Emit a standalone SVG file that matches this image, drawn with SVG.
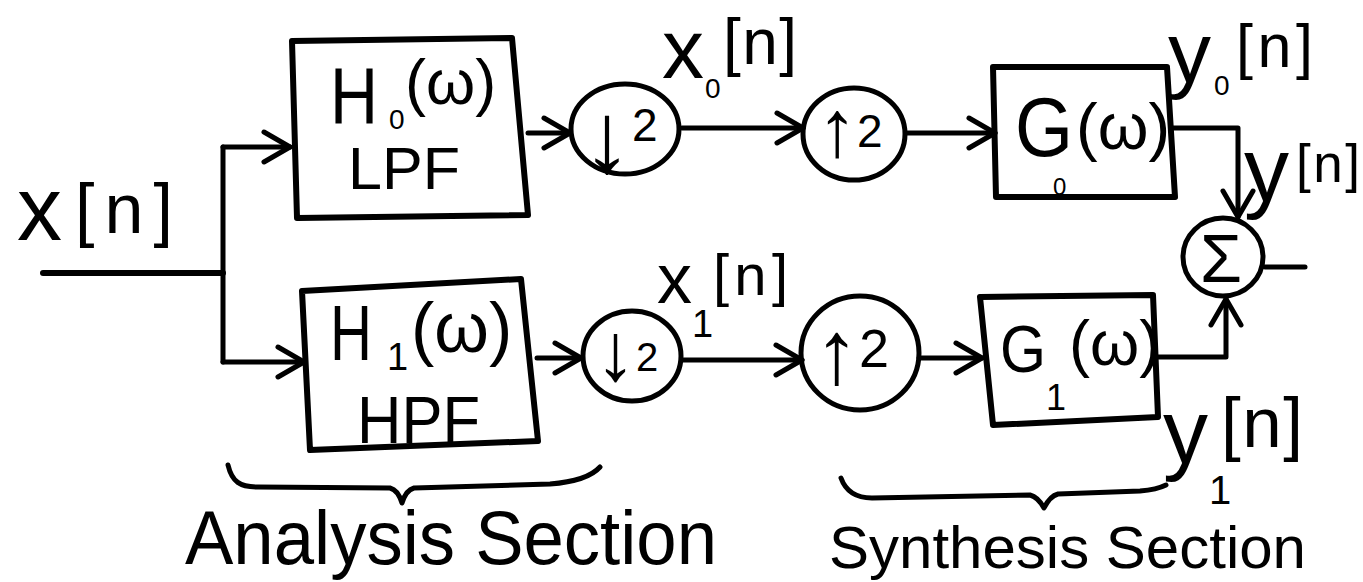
<svg xmlns="http://www.w3.org/2000/svg" width="1363" height="582" viewBox="0 0 1363 582">
<defs>
<style>
.ln{fill:none;stroke:#000;stroke-width:5;stroke-linecap:round;stroke-linejoin:round}
.box{fill:none;stroke:#000;stroke-width:6;stroke-linejoin:round}
.t{font-family:"Liberation Sans","DejaVu Sans",sans-serif;fill:#000}
</style>
<marker id="ah" markerUnits="userSpaceOnUse" markerWidth="40" markerHeight="40" refX="30" refY="20" orient="auto" viewBox="0 0 40 40">
<path d="M4,5 L30,20 L4,35" fill="none" stroke="#000" stroke-width="5" stroke-linecap="round" stroke-linejoin="round"/>
</marker>
</defs>
<rect width="1363" height="582" fill="#fff"/>

<g id="connectors">
<path class="ln" d="M43,273 L223,273" style="stroke-width:6"/>
<path class="ln" d="M223,147 L223,362"/>
<path class="ln" d="M223,147 L290,147" marker-end="url(#ah)"/>
<path class="ln" d="M223,362 L304,362" marker-end="url(#ah)"/>
<path class="ln" d="M528,133 L570,133" marker-end="url(#ah)"/>
<path class="ln" d="M537,358 L581,358" marker-end="url(#ah)"/>
<path class="ln" d="M682,128 L803,128" marker-end="url(#ah)"/>
<path class="ln" d="M683,360 L802,360" marker-end="url(#ah)"/>
<path class="ln" d="M907,133 L995,133" marker-end="url(#ah)"/>
<path class="ln" d="M919,358 L982,358" marker-end="url(#ah)"/>
<path class="ln" d="M1173,128 L1238,128 L1238,217" marker-end="url(#ah)"/>
<path class="ln" d="M1156,357 L1226,357 L1226,299" marker-end="url(#ah)"/>
<path class="ln" d="M1265,267 L1305,267"/>
</g>

<g id="H0">
<polygon class="box" points="292,41 512,38 528,215 297,218"/>
<text class="t"><tspan x="330" y="123" font-size="80" textLength="48" lengthAdjust="spacingAndGlyphs">H</tspan><tspan x="389" y="129" font-size="28">0</tspan><tspan x="405" y="104" font-size="63">(ω)</tspan></text>
<text class="t" x="348" y="189" font-size="60" textLength="112" lengthAdjust="spacingAndGlyphs">LPF</text>
</g>

<g id="H1">
<polygon class="box" points="302,291 521,279 538,441 310,450"/>
<text class="t"><tspan x="330" y="360" font-size="78" textLength="42" lengthAdjust="spacingAndGlyphs">H</tspan><tspan x="387" y="370" font-size="38">1</tspan><tspan x="411" y="352" font-size="70">(ω)</tspan></text>
<text class="t" x="357" y="443" font-size="66" textLength="123" lengthAdjust="spacingAndGlyphs">HPF</text>
</g>

<g id="down0">
<ellipse class="ln" cx="625" cy="129" rx="54" ry="45"/>
<text class="t"><tspan x="582" y="172" font-size="100">↓</tspan><tspan x="632" y="141" font-size="46">2</tspan></text>
</g>

<g id="down1">
<ellipse class="ln" cx="632" cy="356" rx="49" ry="45"/>
<text class="t"><tspan x="595" y="380" font-size="82">↓</tspan><tspan x="636" y="371" font-size="40">2</tspan></text>
</g>

<g id="up0">
<ellipse class="ln" cx="854" cy="134" rx="51" ry="46"/>
<text class="t"><tspan x="817" y="156" font-size="80">↑</tspan><tspan x="857" y="147" font-size="46">2</tspan></text>
</g>

<g id="up1">
<ellipse class="ln" cx="860" cy="353" rx="59" ry="57"/>
<text class="t"><tspan x="814" y="383" font-size="90">↑</tspan><tspan x="859" y="367" font-size="54">2</tspan></text>
</g>

<g id="G0">
<polygon class="box" points="993,67 1167,67 1175,197 996,197"/>
<text class="t"><tspan x="1015" y="156" font-size="84" textLength="58" lengthAdjust="spacingAndGlyphs">G</tspan><tspan x="1053" y="195" font-size="24">0</tspan><tspan x="1076" y="149" font-size="65">(ω)</tspan></text>
</g>

<g id="G1">
<polygon class="box" points="980,297 1153,295 1158,417 993,425"/>
<text class="t"><tspan x="1000" y="372" font-size="66" textLength="46" lengthAdjust="spacingAndGlyphs">G</tspan><tspan x="1046" y="410" font-size="36">1</tspan><tspan x="1069" y="365" font-size="63">(ω)</tspan></text>
</g>

<g id="sum">
<ellipse class="ln" cx="1223" cy="257" rx="40" ry="39"/>
<text class="t" x="1221" y="282" font-size="68" text-anchor="middle">Σ</text>
</g>

<g id="labels">
<text class="t"><tspan x="17" y="240" font-size="90">x</tspan><tspan x="75" y="233" font-size="70" textLength="98" lengthAdjust="spacing">[n]</tspan></text>
<text class="t"><tspan x="662" y="78" font-size="84">x</tspan><tspan x="705" y="98" font-size="28">0</tspan><tspan x="723" y="64" font-size="64" textLength="74" lengthAdjust="spacing">[n]</tspan></text>
<text class="t"><tspan x="657" y="303" font-size="70">x</tspan><tspan x="692" y="337" font-size="38">1</tspan><tspan x="713" y="295" font-size="58" textLength="75" lengthAdjust="spacing">[n]</tspan></text>
<text class="t"><tspan x="1168" y="82" font-size="86">y</tspan><tspan x="1214" y="95" font-size="28">0</tspan><tspan x="1236" y="67" font-size="61" textLength="77" lengthAdjust="spacing">[n]</tspan></text>
<text class="t"><tspan x="1244" y="201" font-size="90">y</tspan><tspan x="1296" y="182" font-size="53" textLength="64" lengthAdjust="spacing">[n]</tspan></text>
<text class="t"><tspan x="1163" y="463" font-size="90">y</tspan><tspan x="1209" y="504" font-size="40">1</tspan><tspan x="1221" y="447" font-size="71" textLength="82" lengthAdjust="spacing">[n]</tspan></text>
<path class="ln" d="M228,465 C232,482 240,487 258,487 L390,488 Q398,490 402,503 Q406,490 414,488 L550,484 C575,482 592,476 600,467"/>
<path class="ln" d="M841,478 C846,492 856,498 872,498 L1030,495 Q1038,497 1044,508 Q1050,496 1058,494 L1140,491 C1152,490 1160,488 1166,485"/>
<text class="t" x="185" y="564" font-size="76" textLength="532" lengthAdjust="spacingAndGlyphs">Analysis Section</text>
<text class="t" x="829" y="568" font-size="60" textLength="477" lengthAdjust="spacingAndGlyphs">Synthesis Section</text>
</g>
</svg>
